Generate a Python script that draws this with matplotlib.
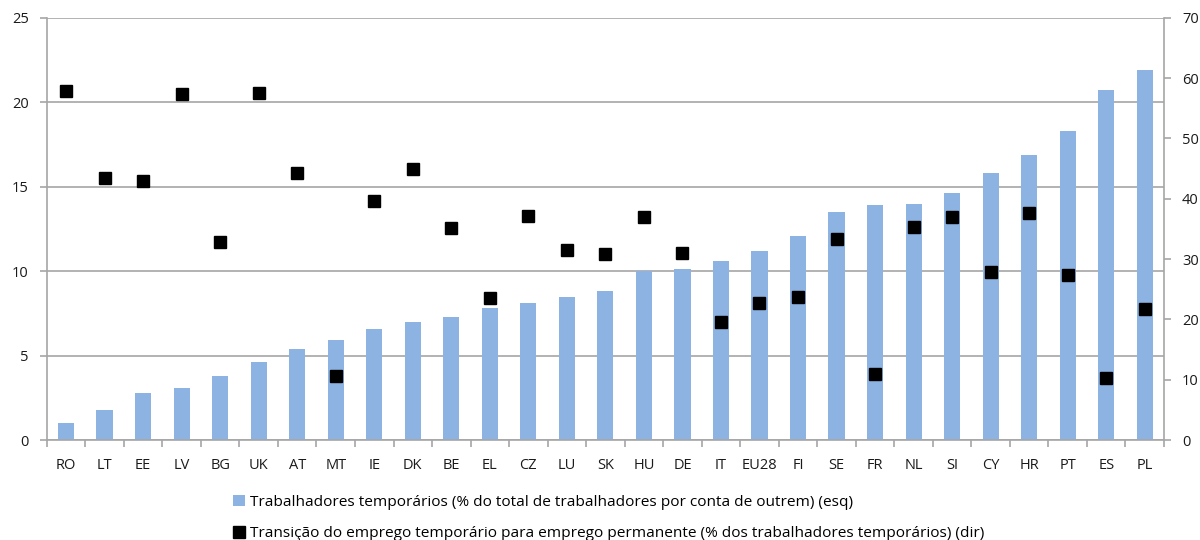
import matplotlib
matplotlib.use("Agg")
import matplotlib.pyplot as plt
from matplotlib.patches import Patch
from matplotlib.lines import Line2D

plt.rcParams['font.family'] = ['Open Sans', 'DejaVu Sans']

# === DATA ===
countries = ["RO", "LT", "EE", "LV", "BG", "UK", "AT", "MT", "IE", "DK", "BE", "EL", "CZ", "LU", "SK",
             "HU", "DE", "IT", "EU28", "FI", "SE", "FR", "NL", "SI", "CY", "HR", "PT", "ES", "PL"]
temp_share = [1.0, 1.8, 2.8, 3.1, 3.8, 4.6, 5.4, 5.9, 6.6, 7.0, 7.3, 7.8, 8.1, 8.5, 8.8,
              10.0, 10.1, 10.6, 11.2, 12.1, 13.5, 13.9, 14.0, 14.6, 15.8, 16.9, 18.3, 20.7, 21.9]
transition = [57.9, 43.5, 42.9, 57.4, 32.9, 57.6, 44.2, 10.6, 39.6, 45.0, 35.1, 23.5, 37.1, 31.5, 30.8,
              36.9, 31.0, 19.5, 22.8, 23.8, 33.4, 10.9, 35.3, 36.9, 27.8, 37.6, 27.3, 10.3, 21.7]

label_bar = "Trabalhadores temporários (% do total de trabalhadores por conta de outrem) (esq)"
label_sq = "Transição do emprego temporário para emprego permanente (% dos trabalhadores temporários) (dir)"

BAR_COLOR = "#8DB3E2"
GRID = "#A6A6A6"

# === CHART ===
fig = plt.figure(figsize=(12, 5.4), dpi=100)
ax = fig.add_axes([0.039, 0.185, 0.931, 0.782])
ax2 = ax.twinx()

x = list(range(len(countries)))
ax.bar(x, temp_share, width=0.42, color=BAR_COLOR, zorder=2)
ax.set_ylim(0, 25)
ax.set_yticks(range(0, 26, 5))
ax.set_xlim(-0.5, len(countries) - 0.5)
ax.set_xticks(x)
ax.set_xticklabels(countries)
ax.yaxis.grid(True, color=GRID, linewidth=1.2, zorder=0)
ax.set_axisbelow(True)

ax2.plot(x, transition, linestyle="none", marker="s", markersize=9.3, color="black", zorder=3)
ax2.set_ylim(0, 70)
ax2.set_yticks(range(0, 71, 10))

for a in (ax, ax2):
    a.spines["top"].set_visible(False)
    for s in ("left", "right", "bottom"):
        a.spines[s].set_color(GRID)
        a.spines[s].set_linewidth(1.2)
    a.tick_params(axis="y", colors=GRID, labelcolor="#1a1a1a", labelsize=10.5, length=5, width=1.2, pad=8)
ax.spines["right"].set_visible(False)
ax2.spines["left"].set_visible(False)
ax2.spines["bottom"].set_visible(False)

# category separators on x axis like Excel
ax.set_xticks([i + 0.5 for i in range(-1, len(countries))], minor=True)
ax.tick_params(axis="x", which="major", length=0, pad=13, labelcolor="#1a1a1a", labelsize=10.5)
ax.tick_params(axis="x", which="minor", length=5, width=1.2, colors=GRID)

handles = [Patch(facecolor=BAR_COLOR, edgecolor="none"),
           Line2D([], [], linestyle="none", marker="s", markersize=9, color="black")]
fig.legend(handles, [label_bar, label_sq], loc="upper left", bbox_to_anchor=(0.194, 0.083),
           frameon=False, fontsize=11.1, labelspacing=1.05, handlelength=0.8, handletextpad=0.3,
           borderaxespad=0, borderpad=0)

plt.savefig("out.png", dpi=100)
